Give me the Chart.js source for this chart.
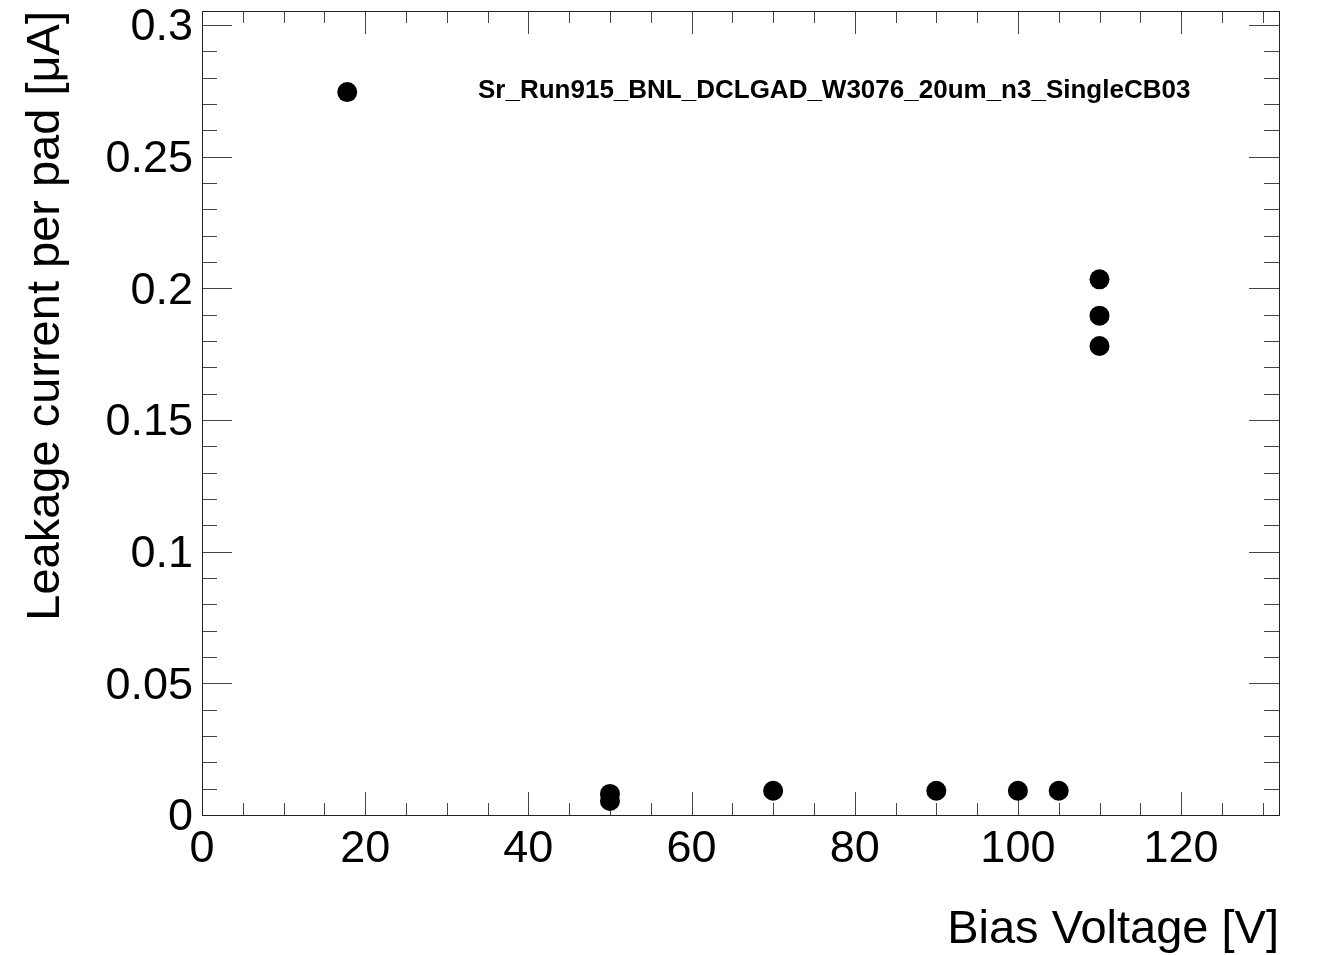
<!DOCTYPE html>
<html>
<head>
<meta charset="utf-8">
<script src="https://cdn.jsdelivr.net/npm/chart.js@4/dist/chart.umd.min.js"></script>
<style>
  html, body { margin: 0; padding: 0; background: #fff; }
  canvas { display: block; }
</style>
</head>
<body>
<canvas id="ivChart" width="1318" height="955"></canvas>
<script>
// valeurs
const biasVoltage = [17.8, 50, 50, 70, 90, 100, 105, 110, 110, 110];
const leakCurrent = [0.2745, 0.0080, 0.0053, 0.0092, 0.0092, 0.0092, 0.0092, 0.2034, 0.1896, 0.1781];
const runLabel = 'Sr_Run915_BNL_DCLGAD_W3076_20um_n3_SingleCB03';
const xTitle = 'Bias Voltage [V]';
const yTitle = 'Leakage current per pad [\u03bcA]';
const xRange = [0, 132];
const yRange = [0, 0.3053];

const points = biasVoltage.map((v, i) => ({ x: v, y: leakCurrent[i] }));

const fontFam = '"Liberation Sans", Arial, Helvetica, sans-serif';

// cadre + graduations internes (style ROOT)
const frameTicks = {
    id: 'frameTicks',
    beforeDatasetsDraw(chart) {
        const { ctx, chartArea: a, scales: { x, y } } = chart;
        ctx.save();
        ctx.strokeStyle = '#444';
        ctx.lineWidth = 1;
        ctx.beginPath();
        // graduations x : majeure tous les 20, mineure tous les 5
        for (let v = 0; v <= xRange[1]; v += 5) {
            const px = Math.round(x.getPixelForValue(v)) + 0.5;
            const len = v % 20 === 0 ? 23 : 12;
            ctx.moveTo(px, a.bottom); ctx.lineTo(px, a.bottom - len);
            ctx.moveTo(px, a.top); ctx.lineTo(px, a.top + len);
        }
        // graduations y : majeure tous les 0.05, mineure tous les 0.01
        for (let k = 0; k <= 30; k++) {
            const py = Math.round(y.getPixelForValue(k / 100)) + 0.5;
            const len = k % 5 === 0 ? 30 : 15;
            ctx.moveTo(a.left, py); ctx.lineTo(a.left + len, py);
            ctx.moveTo(a.right, py); ctx.lineTo(a.right - len, py);
        }
        ctx.stroke();
        ctx.strokeStyle = '#222';
        ctx.strokeRect(Math.round(a.left) + 0.5, Math.round(a.top) + 0.5,
            Math.round(a.right - a.left), Math.round(a.bottom - a.top));
        // étiquette du run
        ctx.fillStyle = '#000';
        ctx.font = 'bold 26px ' + fontFam;
        ctx.textBaseline = 'middle';
        ctx.textAlign = 'left';
        ctx.fillText(runLabel, 478, 91);
        ctx.restore();
    }
};

const ctx = document.getElementById('ivChart').getContext('2d');
new Chart(ctx, {
    type: 'scatter',
    data: {
        datasets: [{
            data: points,
            backgroundColor: '#000',
            borderColor: '#000',
            pointRadius: 10,
            pointHoverRadius: 10,
            borderWidth: 0
        }]
    },
    options: {
        responsive: false,
        animation: false,
        events: [],
        layout: { padding: { top: 11, right: 39, left: 0, bottom: 0 } },
        plugins: { legend: { display: false }, tooltip: { enabled: false } },
        scales: {
            x: {
                type: 'linear',
                min: xRange[0],
                max: xRange[1],
                grid: { display: false, drawTicks: false },
                border: { display: false },
                ticks: {
                    stepSize: 20,
                    includeBounds: false,
                    maxRotation: 0,
                    padding: 8,
                    color: '#000',
                    font: { family: fontFam, size: 45 }
                },
                title: {
                    display: true,
                    text: xTitle,
                    align: 'end',
                    color: '#000',
                    font: { family: fontFam, size: 47 },
                    padding: { top: 0, bottom: -3 }
                },
                afterFit(scale) {
                    scale.height = 140;
                    scale.paddingLeft = 0;
                    scale.paddingRight = 0;
                }
            },
            y: {
                type: 'linear',
                min: yRange[0],
                max: yRange[1],
                grid: { display: false, drawTicks: false },
                border: { display: false },
                ticks: {
                    stepSize: 0.05,
                    includeBounds: false,
                    padding: 9,
                    labelOffset: 3,
                    color: '#000',
                    font: { family: fontFam, size: 45 },
                    callback: v => String(Math.round(v * 100) / 100)
                },
                title: {
                    display: true,
                    text: yTitle,
                    align: 'end',
                    color: '#000',
                    font: { family: fontFam, size: 47 },
                    padding: { top: 18, bottom: 0 }
                },
                afterFit(scale) {
                    scale.width = 202;
                    scale.paddingTop = 0;
                    scale.paddingBottom = 0;
                }
            }
        }
    },
    plugins: [frameTicks]
});
</script>
</body>
</html>
